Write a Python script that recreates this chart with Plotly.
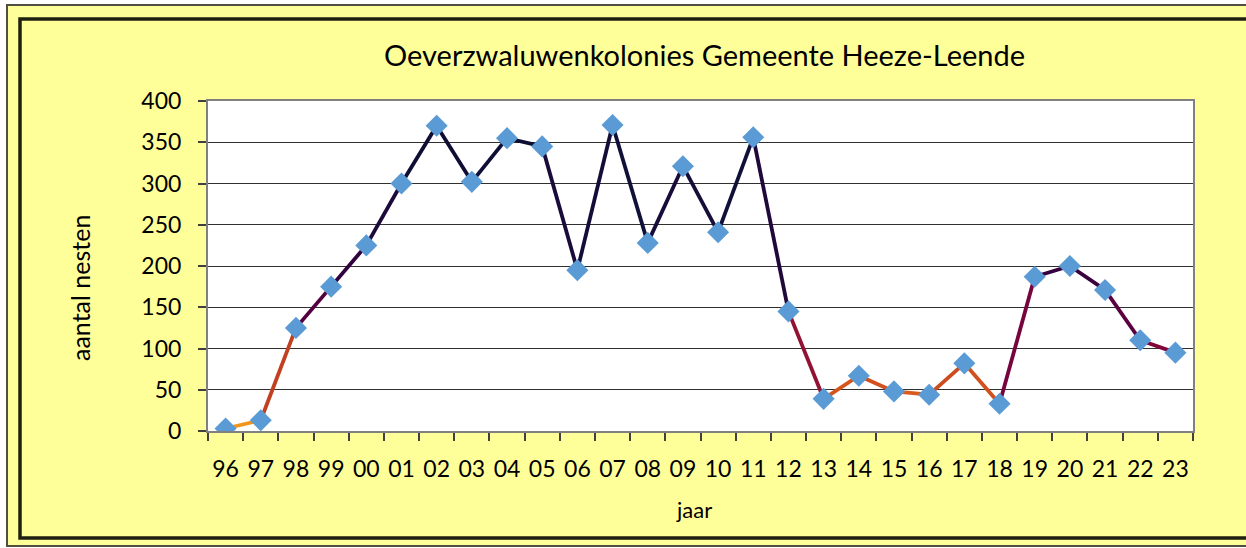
import plotly.graph_objects as go
import plotly.colors as pc

years = ["96", "97", "98", "99", "00", "01", "02", "03", "04", "05", "06", "07", "08", "09",
         "10", "11", "12", "13", "14", "15", "16", "17", "18", "19", "20", "21", "22", "23"]
nests = [3, 13, 125, 175, 225, 300, 370, 302, 355, 345, 195, 371, 228, 321,
         241, 356, 145, 39, 67, 48, 44, 82, 33, 187, 200, 171, 110, 95]

line_scale = [
    [0.0, "#F7A21B"],
    [0.1, "#E0601A"],
    [0.16, "#CC4A1E"],
    [0.24, "#8A0A36"],
    [0.30, "#6A0040"],
    [0.5, "#30003F"],
    [0.75, "#101038"],
    [1.0, "#0A0A30"],
]

fig = go.Figure()

for i in range(len(years) - 1):
    mid = (nests[i] + nests[i + 1]) / 2 / 400
    col = pc.sample_colorscale(line_scale, [mid])[0]
    fig.add_trace(go.Scatter(
        x=years[i:i + 2], y=nests[i:i + 2], mode="lines",
        line=dict(color=col, width=3.8), hoverinfo="skip", showlegend=False))

fig.add_trace(go.Scatter(
    x=years, y=nests, mode="markers",
    marker=dict(symbol="diamond", size=17, color="#5B9BD5"),
    showlegend=False))

W, H = 1246, 548
PL, PT, PW, PH = 208, 101, 985, 330


def px(x):
    return (x - PL) / PW


def py(y):
    return (PT + PH - y) / PH


fig.update_layout(
    width=W, height=H,
    paper_bgcolor="white",
    plot_bgcolor="white",
    margin=dict(l=PL, r=W - PL - PW, t=PT, b=H - PT - PH, autoexpand=False),
    font=dict(family="Lato, Open Sans, sans-serif", color="black"),
    showlegend=False,
    shapes=[
        dict(type="rect", xref="paper", yref="paper", layer="below",
             x0=px(7), x1=px(1260), y0=py(546), y1=py(5),
             line=dict(color="#505040", width=2), fillcolor="#FFFF99"),
        dict(type="rect", xref="paper", yref="paper", layer="below",
             x0=px(20), x1=px(1260), y0=py(538), y1=py(19),
             line=dict(color="#202010", width=3.5), fillcolor="#FFFF99"),
        dict(type="rect", xref="paper", yref="paper", layer="below",
             x0=0, x1=1, y0=0, y1=1, line=dict(width=0), fillcolor="white"),
    ],
    annotations=[
        dict(text="Oeverzwaluwenkolonies Gemeente Heeze-Leende", xref="paper", yref="paper",
             x=px(704), y=py(54), showarrow=False,
             font=dict(size=29), xanchor="center", yanchor="middle"),
        dict(text="aantal nesten", xref="paper", yref="paper",
             x=px(80), y=py(288), showarrow=False, textangle=-90,
             font=dict(size=25), xanchor="center", yanchor="middle"),
        dict(text="jaar", xref="paper", yref="paper",
             x=px(694), y=py(510), showarrow=False,
             font=dict(size=22), xanchor="center", yanchor="middle"),
    ],
)

fig.update_xaxes(
    type="category", categoryorder="array", categoryarray=years,
    range=[-0.5, len(years) - 0.5], autorange=False,
    showline=True, linecolor="#808080", linewidth=2, mirror=True,
    ticks="outside", tickson="boundaries", ticklen=8, tickcolor="#404040",
    tickwidth=1.5, showgrid=False, zeroline=False, tickangle=0,
    tickfont=dict(size=23), ticklabelstandoff=16, automargin=False,
)
fig.update_yaxes(
    range=[0, 400], dtick=50, tick0=0, autorange=False,
    showline=True, linecolor="#808080", linewidth=2, mirror=True,
    ticks="outside", ticklen=8, tickcolor="#404040", tickwidth=1.5,
    showgrid=True, gridcolor="#303030", gridwidth=1, zeroline=False,
    tickfont=dict(size=23), ticklabelstandoff=12, automargin=False,
)

fig.write_html(
    "out.html",
    config={"displayModeBar": False},
    post_script="document.body.style.margin='0';document.body.style.overflow='hidden';",
)
